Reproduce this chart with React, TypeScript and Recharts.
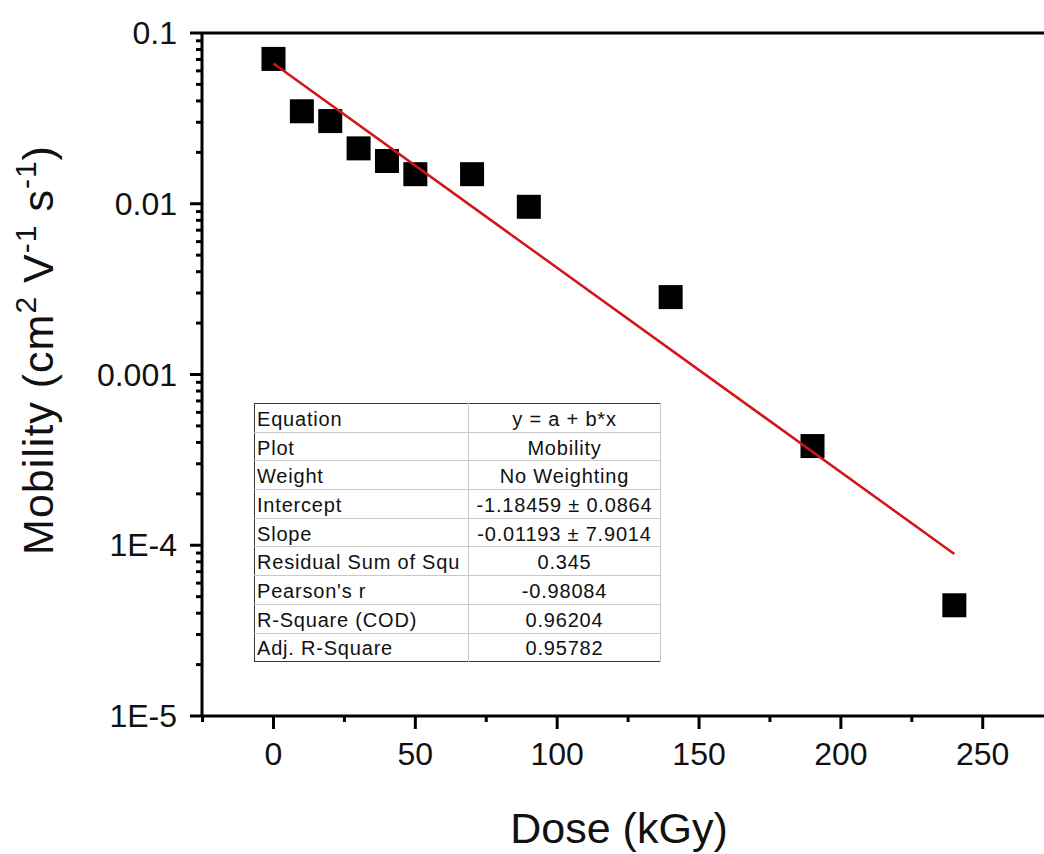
import { ComposedChart, ReferenceLine, Scatter, XAxis, YAxis } from "recharts";

// measured dose / mobility points
const DOSE = [0, 10, 20, 30, 40, 50, 70, 90, 140, 190, 240];
const MOBILITY = [0.0705, 0.0348, 0.0305, 0.0211, 0.0178, 0.0149, 0.0149, 0.0096, 0.00284, 0.000381, 0.0000445];

// linear fit of log10(mobility), end points
const FIT_DOSE = [0, 240];
const FIT_MOBILITY = [0.0663, 0.0000889];

const X_MAJOR = [0, 50, 100, 150, 200, 250];
const X_MINOR = [-25, 25, 75, 125, 175, 225];
const Y_MAJOR = [1e-5, 1e-4, 1e-3, 1e-2, 1e-1];
const Y_LABELS = ["1E-5", "1E-4", "0.001", "0.01", "0.1"];
const Y_MINOR_MULT = [2, 3, 4, 5, 6, 7, 8, 9];

const FIT_ROWS = [
  "Equation",
  "Plot",
  "Weight",
  "Intercept",
  "Slope",
  "Residual Sum of Squ",
  "Pearson's r",
  "R-Square (COD)",
  "Adj. R-Square",
];
const FIT_VALUES = [
  "y = a + b*x",
  "Mobility",
  "No Weighting",
  "-1.18459 ± 0.0864",
  "-0.01193 ± 7.9014",
  "0.345",
  "-0.98084",
  "0.96204",
  "0.95782",
];

const FONT = "'Liberation Sans', Arial, sans-serif";
const INK = "#111";
const FIT_RED = "#d41414";

const points = DOSE.map((x, i) => ({ x, y: MOBILITY[i] }));
const fitLine = FIT_DOSE.map((x, i) => ({ x, y: FIT_MOBILITY[i] }));
const xTicks = [...X_MINOR, ...X_MAJOR].sort((a, b) => a - b);
const yTicks = [...Y_MAJOR, ...Y_MAJOR.slice(0, 4).flatMap((m) => Y_MINOR_MULT.map((k) => m * k))].sort((a, b) => a - b);

function XTick({ x, y, payload }: any) {
  const major = X_MAJOR.includes(payload.value);
  return (
    <g>
      <line x1={x} x2={x} y1={y} y2={y + (major ? 13 : 6)} stroke="#000" strokeWidth={3} />
      {major && (
        <text x={x} y={y + 49} textAnchor="middle" fontSize={32} fontFamily={FONT} fill={INK}>
          {payload.value}
        </text>
      )}
    </g>
  );
}

function YTick({ x, y, payload }: any) {
  const i = Y_MAJOR.indexOf(payload.value);
  return (
    <g>
      <line x1={x - (i >= 0 ? 12 : 6)} x2={x} y1={y} y2={y} stroke="#000" strokeWidth={3} />
      {i >= 0 && (
        <text x={x - 25} y={y + 11} textAnchor="end" fontSize={32} fontFamily={FONT} fill={INK}>
          {Y_LABELS[i]}
        </text>
      )}
    </g>
  );
}

function XTitle({ viewBox }: any) {
  return (
    <text x={viewBox.x + viewBox.width / 2 - 4} y={viewBox.y + 127} textAnchor="middle" fontSize={43} fontFamily={FONT} fill={INK}>
      Dose (kGy)
    </text>
  );
}

function YTitle() {
  return (
    <text
      transform="translate(53, 350) rotate(-90)"
      textAnchor="middle"
      fontSize={43}
      letterSpacing={1}
      fontFamily={FONT}
      fill={INK}
    >
      Mobility (cm
      <tspan fontSize={30} dy={-17}>2</tspan>
      <tspan dy={17}> V</tspan>
      <tspan fontSize={30} dy={-17}>-1</tspan>
      <tspan dy={17}> s</tspan>
      <tspan fontSize={30} dy={-17}>-1</tspan>
      <tspan dy={17}>)</tspan>
    </text>
  );
}

const Square = ({ cx, cy }: any) => <rect x={cx - 12} y={cy - 12} width={24} height={24} fill="#000" />;

const cell = { borderRight: "1px solid #c8c8c8", padding: "3px 2px 0", whiteSpace: "nowrap" as const, overflow: "hidden" };

export default function App() {
  return (
    <div style={{ position: "absolute", left: 0, top: 0, width: 1044, height: 854, background: "#fff", overflow: "hidden" }}>
      <ComposedChart width={1044} height={854} margin={{ top: 33, right: 0, bottom: 0, left: 0 }}>
        <XAxis
          type="number"
          dataKey="x"
          domain={[-25.2, 271.6]}
          allowDataOverflow
          ticks={xTicks}
          interval={0}
          height={138}
          tickSize={0}
          tickMargin={0}
          tick={<XTick />}
          axisLine={{ stroke: "#000", strokeWidth: 3 }}
          label={<XTitle />}
        />
        <YAxis
          type="number"
          dataKey="y"
          scale="log"
          domain={[1e-5, 0.1]}
          allowDataOverflow
          ticks={yTicks}
          interval={0}
          width={202}
          tickSize={0}
          tickMargin={0}
          tick={<YTick />}
          axisLine={{ stroke: "#000", strokeWidth: 3 }}
          label={<YTitle />}
        />
        <ReferenceLine y={0.1} stroke="#000" strokeWidth={3} />
        <Scatter data={points} shape={<Square />} isAnimationActive={false} />
        <Scatter
          data={fitLine}
          line={{ stroke: FIT_RED, strokeWidth: 2.5 }}
          shape={() => <g />}
          isAnimationActive={false}
        />
      </ComposedChart>
      <table
        style={{
          position: "absolute",
          left: 254,
          top: 403,
          width: 406,
          height: 259,
          borderCollapse: "collapse",
          border: "1.5px solid #3a3a3a",
          fontFamily: FONT,
          fontSize: 20,
          letterSpacing: 0.8,
          color: INK,
          background: "#fff",
          tableLayout: "fixed",
        }}
      >
        <colgroup>
          <col style={{ width: 214 }} />
          <col style={{ width: 192 }} />
        </colgroup>
        <tbody>
          {FIT_ROWS.map((r, i) => {
            const line = i < FIT_ROWS.length - 1 ? "1px solid #c8c8c8" : undefined;
            return (
              <tr key={r} style={{ height: 28.7 }}>
                <td style={{ ...cell, borderBottom: line }}>{r}</td>
                <td style={{ ...cell, borderBottom: line, textAlign: "center" }}>{FIT_VALUES[i]}</td>
              </tr>
            );
          })}
        </tbody>
      </table>
    </div>
  );
}
